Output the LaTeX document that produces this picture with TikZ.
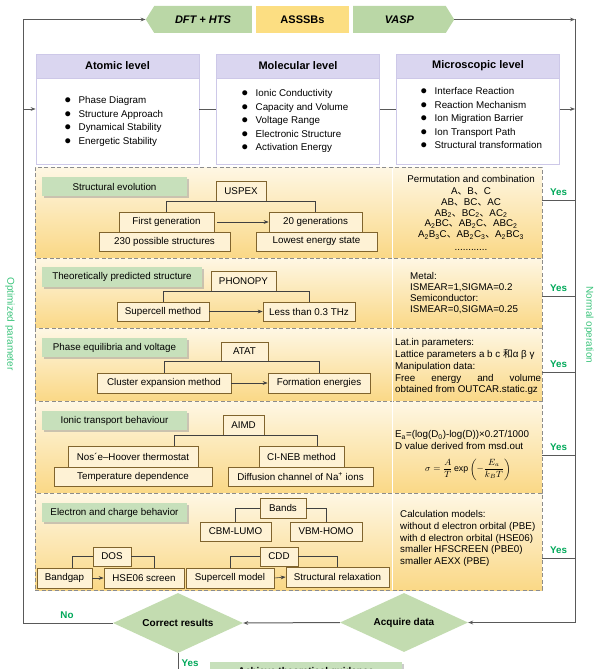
\documentclass[tikz,border=0pt]{standalone}
\usepackage{fontspec}
\setmainfont{Liberation Sans}
\newfontfamily\cjk{Noto Sans CJK SC}
\usepackage{amsmath}
\usetikzlibrary{positioning}
\usetikzlibrary{arrows.meta}
\usetikzlibrary{shapes.geometric}
\usetikzlibrary{shapes.symbols}
\usetikzlibrary{shadows}
\usetikzlibrary{calc}
\definecolor{flowGray}{RGB}{89,89,89}
\definecolor{bannerGreen}{RGB}{186,215,166}
\definecolor{bannerYellow}{RGB}{252,222,130}
\definecolor{labelGreen}{RGB}{199,224,187}
\definecolor{diamondGreen}{RGB}{195,220,176}
\definecolor{headLilac}{RGB}{218,214,240}
\definecolor{lineLilac}{RGB}{205,200,232}
\definecolor{boxBrown}{RGB}{128,100,45}
\definecolor{boxFill}{RGB}{254,242,213}
\definecolor{dashGray}{RGB}{140,140,140}
\definecolor{yesGreen}{RGB}{0,168,89}
\definecolor{sideGreen}{RGB}{60,196,124}
\definecolor{secTop}{RGB}{254,247,228}
\definecolor{secBot}{RGB}{250,216,134}
\newcommand\dun{{\cjk 、}}
\newcommand\bul{\makebox[14pt][l]{\scalebox{1.3}{$\bullet$}}}

\begin{document}
\begin{tikzpicture}[x=1pt,y=-1pt,
  every node/.style={font=\fontsize{9.8}{11.7}\selectfont},
  flowline/.style={draw=flowGray, line width=1pt},
  link/.style={draw=black!75, line width=0.6pt},
  arr/.style={-{Stealth[length=5pt,width=3.8pt]}},
  ribbon/.style={signal, signal pointer angle=116, fill=bannerGreen, minimum height=27pt, inner sep=0pt, font=\fontsize{11}{13}\selectfont\bfseries\itshape},
  lvbox/.style={draw=lineLilac, fill=white, line width=0.8pt, minimum width=163pt, minimum height=110pt, inner sep=0pt},
  lvhead/.style={draw=lineLilac, fill=headLilac, line width=0.8pt, minimum width=163pt, minimum height=24pt, inner sep=0pt, anchor=north, font=\fontsize{11}{13}\selectfont\bfseries},
  bullets/.style={align=left, anchor=north west, inner sep=0pt, font=\fontsize{9.8}{13.45}\selectfont},
  secbox/.style={draw=dashGray, dash pattern=on 4pt off 2.5pt, line width=0.7pt, minimum width=507pt, inner sep=0pt, top color=secTop, bottom color=secBot},
  sectag/.style={fill=labelGreen, minimum width=145pt, minimum height=19pt, inner sep=0pt, drop shadow={shadow xshift=1.5pt, shadow yshift=-1.5pt, fill=black!40, opacity=.5}},
  tbox/.style={draw=boxBrown, fill=boxFill, line width=0.7pt, minimum height=20pt, inner sep=0pt},
  notetext/.style={align=left, anchor=north west, inner sep=0pt},
  yeslab/.style={text=yesGreen, font=\fontsize{9.8}{11}\selectfont\bfseries, inner sep=1pt},
  sidelab/.style={text=sideGreen, rotate=-90, font=\fontsize{10}{12}\selectfont},
  decision/.style={diamond, fill=diamondGreen, minimum width=130pt, minimum height=60pt, inner sep=0pt, aspect=2.17, font=\fontsize{10}{12}\selectfont\bfseries}]

\useasboundingbox (0,0) rectangle (600,669);

% banner
\node[ribbon, signal to=west, minimum width=106pt] (dft) at (203,19.5) {DFT + HTS};
\node[fill=bannerYellow, minimum width=93pt, minimum height=27pt, inner sep=0pt, font=\fontsize{11}{13}\selectfont\bfseries] (asssb) at (302.5,19.5) {ASSSBs};
\node[ribbon, signal to=east, minimum width=101pt] (vasp) at (399.5,19.5) {VASP};
\coordinate (tl) at (23,19.5);
\coordinate (tr) at (575,19.5);

% levels
\node[lvbox] (atomic) at (117.5,109) {};
\node[lvhead] (atomichd) at (atomic.north) {Atomic level};
\node[bullets] (atomiclist) at (64.5,96.4) {\bul Phase Diagram\\ \bul Structure Approach\\ \bul Dynamical Stability\\ \bul Energetic Stability};
\node[lvbox] (molecular) at (298,109) {};
\node[lvhead] (molecularhd) at (molecular.north) {Molecular level};
\node[bullets] (molecularlist) at (241.5,89.4) {\bul Ionic Conductivity\\ \bul Capacity and Volume\\ \bul Voltage Range\\ \bul Electronic Structure\\ \bul Activation Energy};
\node[lvbox] (micro) at (478,109) {};
\node[lvhead] (microhd) at (micro.north) {Microscopic level};
\node[bullets] (microlist) at (420.5,87.4) {\bul Interface Reaction\\ \bul Reaction Mechanism\\ \bul Ion Migration Barrier\\ \bul Ion Transport Path\\ \bul Structural transformation};

% sections
\node[secbox, minimum height=91pt] (sec1) at (288.5,212.5) {};
\node[secbox, minimum height=70.5pt] (sec2) at (288.5,293.25) {};
\node[secbox, minimum height=72.5pt] (sec3) at (288.5,364.75) {};
\node[secbox, minimum height=92pt] (sec4) at (288.5,447) {};
\node[secbox, minimum height=97pt] (sec5) at (288.5,541.5) {};
\draw[white, line width=1pt] (392,167.5) -- (392,589.5);

\node[sectag] (tag1) at (114.5,186.5) {Structural evolution};
\node[sectag, minimum width=160pt, minimum height=20pt] (tag2) at (122,277) {Theoretically predicted structure};
\node[sectag] (tag3) at (114.5,347.5) {Phase equilibria and voltage};
\node[sectag] (tag4) at (114.5,420.5) {Ionic transport behaviour};
\node[sectag] (tag5) at (114.5,512.5) {Electron and charge behavior};

\node[tbox, minimum width=50pt] (uspex) at (241,191) {USPEX};
\node[tbox, minimum width=95pt] (firstgen) at (166.5,222) {First generation};
\node[tbox, minimum width=93pt] (twentygen) at (315.5,222) {20 generations};
\node[tbox, minimum width=131pt, minimum height=19pt] (possible) at (164.5,241.5) {230 possible structures};
\node[tbox, minimum width=121pt, minimum height=19pt] (lowest) at (316.5,241.5) {Lowest energy state};
\draw[link] (firstgen.north) |- (uspex.south) -| (twentygen.north);
\draw[link, arr] ([xshift=3pt]firstgen.east) -- (twentygen.west);

\node[tbox, minimum width=65pt] (phonopy) at (243.5,281) {PHONOPY};
\node[tbox, minimum width=92pt, minimum height=19pt] (supercell) at (163,311.5) {Supercell method};
\node[tbox, minimum width=92pt, minimum height=19pt] (lessthz) at (309,311.5) {Less than 0.3 THz};
\draw[link] (supercell.north) |- (phonopy.south) -| (lessthz.north);
\draw[link, arr] (supercell.east) -- (lessthz.west);

\node[tbox, minimum width=47pt, minimum height=19pt] (atat) at (244.5,351.5) {ATAT};
\node[tbox, minimum width=134pt] (cluster) at (164,383) {Cluster expansion method};
\node[tbox, minimum width=102pt] (formation) at (319,383) {Formation energies};
\draw[link] (cluster.north) |- (atat.south) -| (formation.north);
\draw[link, arr] (cluster.east) -- (formation.west);

\node[tbox, minimum width=41pt] (aimd) at (243.5,425) {AIMD};
\node[tbox, minimum width=130pt, minimum height=21pt] (nose) at (133,456.5) {Nos´e–Hoover thermostat};
\node[tbox, minimum width=85pt, minimum height=21pt] (cineb) at (301.5,456.5) {CI-NEB method};
\node[tbox, minimum width=158pt, minimum height=19pt] (tempdep) at (133,476.5) {Temperature dependence};
\node[tbox, minimum width=145pt, minimum height=19pt] (diffusion) at (300.5,476.5) {Diffusion channel of Na\textsuperscript{+} ions};
\draw[link] ([xshift=41pt]nose.north) |- (aimd.south) -| ([xshift=16pt]cineb.north);

\node[tbox, minimum width=46pt] (bands) at (283,508) {Bands};
\node[tbox, minimum width=71pt, minimum height=19pt] (cbm) at (235.5,531.5) {CBM-LUMO};
\node[tbox, minimum width=72pt, minimum height=19pt] (vbm) at (326,531.5) {VBM-HOMO};
\draw[link] (cbm.north) |- (bands.west);
\draw[link] (vbm.north) |- (bands.east);
\node[tbox, minimum width=38pt, minimum height=19pt] (dos) at (112,556.5) {DOS};
\node[tbox, minimum width=55pt] (bandgap) at (64.5,578) {Bandgap};
\node[tbox, minimum width=80pt] (hse) at (144,578) {HSE06 screen};
\draw[link] ([xshift=8pt]bandgap.north) |- (dos.west);
\draw[link] ([xshift=10pt]hse.north) |- (dos.east);
\draw[link, arr] (bandgap.east) -- (hse.west);
\node[tbox, minimum width=38pt, minimum height=19pt] (cdd) at (279,556.5) {CDD};
\node[tbox, minimum width=88pt] (scmodel) at (230,578) {Supercell model};
\node[tbox, minimum width=103pt] (relax) at (337.5,577) {Structural relaxation};
\draw[link] (scmodel.north) |- (cdd.west);
\draw[link] (relax.north) |- (cdd.east);
\draw[link, arr] (scmodel.east) -- (relax.west);

% right column
\node[align=center, anchor=north, inner sep=0pt, font=\fontsize{9.8}{10.7}\selectfont] (perm) at (471,175.4) {Permutation and combination\\[1.3pt] A\dun B\dun C\\ AB\dun BC\dun AC\\ AB\textsubscript{2}\dun BC\textsubscript{2}\dun AC\textsubscript{2}\\ A\textsubscript{2}BC\dun AB\textsubscript{2}C\dun ABC\textsubscript{2}\\ A\textsubscript{2}B\textsubscript{3}C\dun AB\textsubscript{2}C\textsubscript{3}\dun A\textsubscript{2}BC\textsubscript{3}\\[2pt] ............};
\node[notetext, font=\fontsize{9.8}{11}\selectfont] (metal) at (410,272.4) {Metal:\\ ISMEAR=1,SIGMA=0.2\\ Semiconductor:\\ ISMEAR=0,SIGMA=0.25};
\node[notetext, font=\fontsize{9.8}{11.8}\selectfont] (latin) at (395,338.4) {Lat.in parameters:\\ Lattice parameters a b c {\cjk 和}α β γ\\ Manipulation data:\\ \makebox[146pt][s]{Free energy and volume}\\ obtained from OUTCAR.static.gz};
\node[notetext, font=\fontsize{9.8}{11.6}\selectfont] (activation) at (395,430.6) {E\textsubscript{a}=(log(D\textsubscript{0})-log(D))×0.2T/1000\\ D value derived from msd.out};
\node[font=\fontsize{8.8}{10}\selectfont, inner sep=0pt] (sigma) at (468,469.5) {$\displaystyle\sigma=\frac{A}{T}\exp\left(-\frac{E_a}{k_BT}\right)$};
\node[notetext, font=\fontsize{9.8}{11.75}\selectfont] (calc) at (400,510.4) {Calculation models:\\ without d electron orbital (PBE)\\ with d electron orbital (HSE06)\\ smaller HFSCREEN (PBE0)\\ smaller AEXX (PBE)};

\coordinate (yes1) at (542,200);
\coordinate (yes2) at (542,296);
\coordinate (yes3) at (542,372);
\coordinate (yes4) at (542,455);
\coordinate (yes5) at (542,558);
\draw[flowline] (yes1) -- (yes1 -| tr) node[midway, above=3pt, yeslab] (yesA) {Yes};
\draw[flowline] (yes2) -- (yes2 -| tr) node[midway, above=3pt, yeslab] (yesB) {Yes};
\draw[flowline] (yes3) -- (yes3 -| tr) node[midway, above=3pt, yeslab] (yesC) {Yes};
\draw[flowline] (yes4) -- (yes4 -| tr) node[midway, above=3pt, yeslab] (yesD) {Yes};
\draw[flowline] (yes5) -- (yes5 -| tr) node[midway, above=3pt, yeslab] (yesE) {Yes};

% bottom
\node[decision] (correct) at (178,623) {Correct results};
\node[decision, minimum width=128pt, minimum height=59pt] (acquire) at (404,622.5) {Acquire data};
\node[sectag, minimum width=192pt, minimum height=20pt, font=\fontsize{9.8}{11}\selectfont\bfseries] (achieve) at (306,672) {Achieve theoretical guidance};

\draw[flowline, arr] (vasp.east) -- (tr);
\draw[flowline, arr] (tr) |- (acquire.east);
\draw[flowline, arr] (acquire.west) -- (correct.east);
\draw[flowline, arr] (correct.west) -| (tl) -- (dft.west);
\draw[flowline, arr] (atomic.west -| tl) -- (atomic.west);
\draw[flowline] (atomic.east) -- (molecular.west);
\draw[flowline] (molecular.east) -- (micro.west);
\draw[flowline, arr] (micro.east) -- (micro.east -| tr);
\draw[flowline, arr] (correct.south) |- (achieve.west);
\node[yeslab] (nolab) at (67,615) {No};
\node[yeslab] (yesdown) at (190,663) {Yes};
\node[sidelab] (optim) at (10,324) {Optimized parameter};
\node[sidelab] (normal) at (589,325) {Normal operation};
\end{tikzpicture}
\end{document}
